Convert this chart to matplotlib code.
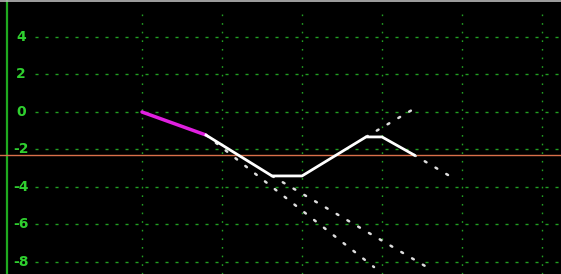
import matplotlib
matplotlib.use("Agg")
import matplotlib.pyplot as plt

# ---- data ----
y_ticks = [4, 2, 0, -2, -4, -6, -8]
x_grid = [0, 1, 2, 3, 4, 5]
ref_level = -2.29

history_x = [0.0, 0.8]
history_y = [0.0, -1.23]

path_x = [0.8, 1.625, 2.0, 2.8, 3.0, 3.4]
path_y = [-1.23, -3.41, -3.41, -1.33, -1.33, -2.29]

proj1_x = [0.8, 2.9]
proj1_y = [-1.23, -8.27]
proj2_x = [1.625, 3.625]
proj2_y = [-3.41, -8.43]
proj3_x = [2.8, 3.46]
proj3_y = [-1.33, 0.32]
proj4_x = [3.4, 3.825]
proj4_y = [-2.29, -3.36]

# ---- figure ----
fig = plt.figure(figsize=(5.61, 2.74), dpi=100, facecolor="black")
ax = fig.add_axes([0, 0, 1, 1])
ax.set_facecolor("black")
x_left, x_right = -1.775, 5.2375
y_top, y_bot = 5.973, -8.64
ax.set_xlim(x_left, x_right)
ax.set_ylim(y_bot, y_top)
for s in ax.spines.values():
    s.set_visible(False)
ax.set_xticks([])
ax.set_yticks([])

grid_col = "#22a022"
# horizontal gridlines
ax.hlines(y_ticks, -1.34, x_right, colors=grid_col, linestyles=(0, (2.2, 5)), linewidth=1.0, zorder=1)
# vertical gridlines
ax.vlines(x_grid, y_bot, y_top - 0.45, colors=grid_col, linestyles=(0, (1.2, 5)), linewidth=1.0, zorder=1)

# left axis line
ax.axvline(-1.6875, color="#1faa1f", linewidth=1.6, zorder=2)
# top border
ax.axhline(y_top - 0.05, color="#bbbbbb", linewidth=1.2, zorder=2)

# reference line
ax.axhline(ref_level, color="#d8704a", linewidth=1.0, zorder=2)

# tick labels
for v in y_ticks:
    ax.text(-1.51, v, f"{v}", color="#2fd02f", fontsize=10, fontweight="bold",
            ha="center", va="center", zorder=3)

# projections (dotted)
for px, py in [(proj1_x, proj1_y), (proj2_x, proj2_y), (proj3_x, proj3_y), (proj4_x, proj4_y)]:
    ax.plot(px, py, color="#dddddd", linewidth=1.8, linestyle=(0, (0.8, 4.2)),
            dash_capstyle="round", zorder=4)

# history and path
ax.plot(history_x, history_y, color="#e020e0", linewidth=2.5, solid_capstyle="round", zorder=5)
ax.plot(path_x, path_y, color="white", linewidth=2.0, solid_joinstyle="miter", zorder=5)

fig.savefig("out.png", dpi=100, facecolor="black")
